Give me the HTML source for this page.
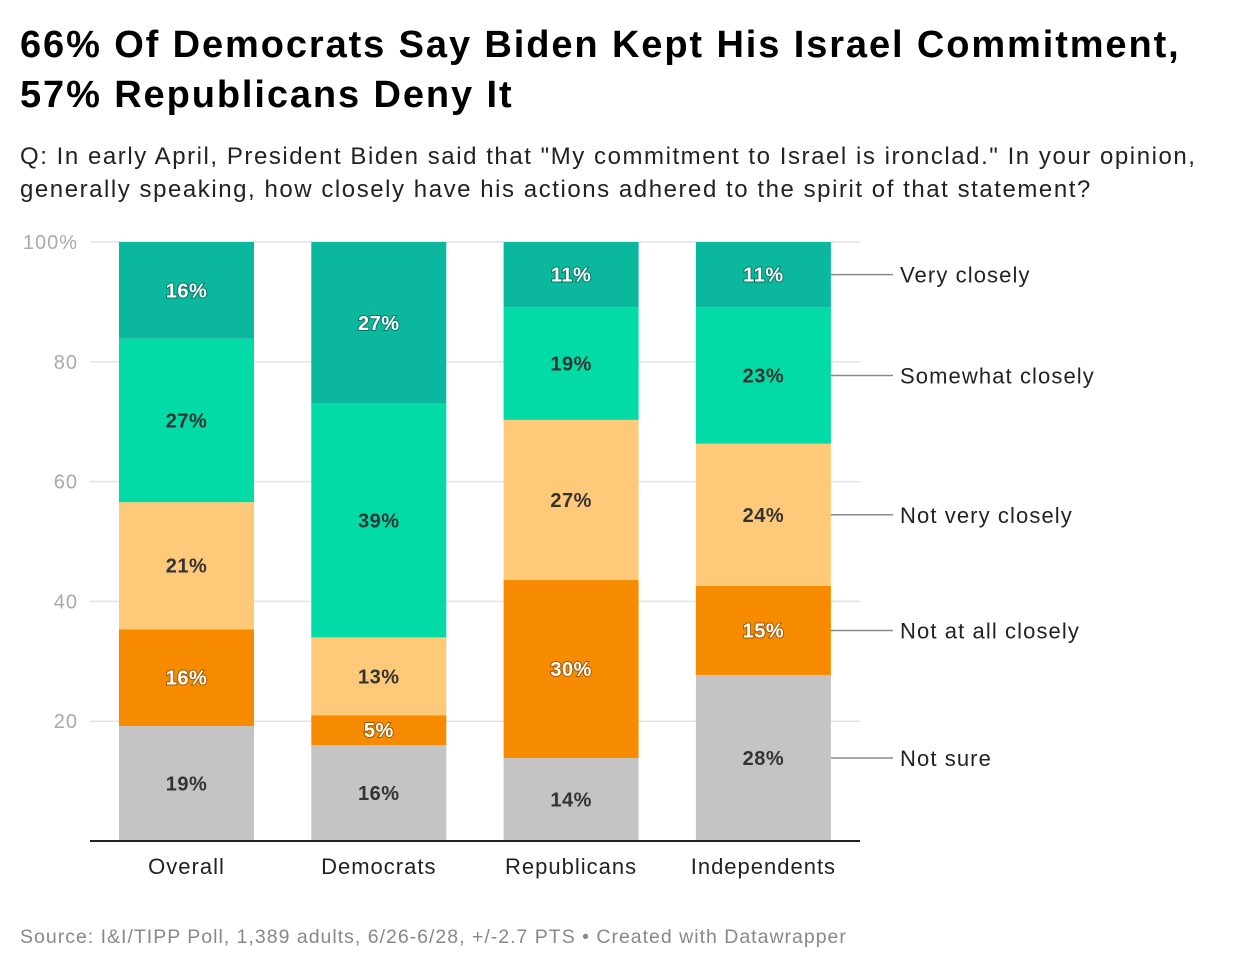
<!DOCTYPE html>
<html><head><meta charset="utf-8"><style>
body{margin:0;background:#fff;width:1240px;height:972px;overflow:hidden;font-family:"Liberation Sans",sans-serif;}
#title{position:absolute;left:20px;top:20px;font-size:38px;font-weight:bold;line-height:50px;color:#000;letter-spacing:1.9px}
#sub{position:absolute;left:20px;top:140px;font-size:24px;line-height:33px;color:#222;letter-spacing:1.55px;white-space:nowrap}
#src{position:absolute;left:20px;top:926px;font-size:19.5px;color:#888;letter-spacing:1px}
svg{position:absolute;left:0;top:0}
</style></head><body>
<div id="title">66% Of Democrats Say Biden Kept His Israel Commitment,<br>57% Republicans Deny It</div>
<div id="sub">Q: In early April, President Biden said that "My commitment to Israel is ironclad." In your opinion,<br>generally speaking, how closely have his actions adhered to the spirit of that statement?</div>
<div id="src">Source: I&amp;I/TIPP Poll, 1,389 adults, 6/26-6/28, +/-2.7 PTS • Created with Datawrapper</div>
<svg id="chart" width="1240" height="972"></svg>
<script>
const categories=["Overall","Democrats","Republicans","Independents"];
const seriesNames=["Not sure","Not at all closely","Not very closely","Somewhat closely","Very closely"];
const notSure=[19,16,14,28];
const notAtAll=[16,5,30,15];
const notVery=[21,13,27,24];
const somewhat=[27,39,19,23];
const veryClosely=[16,27,11,11];
const yTicks=[20,40,60,80,100];
const yTickLabels=["20","40","60","80","100%"];
const series=[notSure,notAtAll,notVery,somewhat,veryClosely];
const colors=["#c4c4c4","#f78b00","#fec978","#02dba6","#0bb79d"];
const darkText=[true,false,true,true,false];
const svg=document.getElementById('chart');
const NS="http://www.w3.org/2000/svg";
const y0=841,y100=242,x0=90,x1=860;
const y=v=>y0-(y0-y100)*v/100;
const bx=i=>119+i*192.3, bw=135;
function mk(t,a){const e=document.createElementNS(NS,t);for(const k in a)e.setAttribute(k,a[k]);svg.appendChild(e);return e;}
yTicks.forEach((t,i)=>{
 const g=mk('line',{x1:x0,x2:x1,y1:y(t),y2:y(t),stroke:'#e3e3e3','stroke-width':1.5});
 
 
 const l=mk('text',{x:78,y:y(t)+7,'text-anchor':'end','font-size':20,fill:'#aaa','font-family':'Liberation Sans','letter-spacing':1});
 l.textContent=yTickLabels[i];
 
 
});
categories.forEach((c,i)=>{
 const tot=series.reduce((s,a)=>s+a[i],0);
 let cum=0;
 series.forEach((a,s)=>{
  const v=a[i]*100/tot;
  const top=y(cum+v),bot=y(cum);
  const r=mk('rect',{x:bx(i),y:top,width:bw,height:bot-top,fill:colors[s]});
  
  
  const t=mk('text',{x:bx(i)+bw/2,y:(top+bot)/2+7,'text-anchor':'middle','font-size':20,'font-weight':'bold',fill:darkText[s]?'#333':'#fff','font-family':'Liberation Sans','letter-spacing':0.5});
  if(!darkText[s]) t.setAttribute('style','paint-order:stroke;stroke:rgba(0,0,0,0.35);stroke-width:2px');
  t.textContent=a[i]+'%';
  
  
  if(i===categories.length-1){
   const m=(top+bot)/2;
   const ln=mk('line',{x1:bx(i)+bw,x2:893,y1:m,y2:m,stroke:'#888','stroke-width':1.5});
   
   
   const lt=mk('text',{x:900,y:m+8,'font-size':22,fill:'#222','font-family':'Liberation Sans','letter-spacing':1.1});
   lt.textContent=seriesNames[s];
   
   
  }
  cum+=v;
 });
 const xl=mk('text',{x:bx(i)+bw/2,y:874,'text-anchor':'middle','font-size':22,fill:'#222','font-family':'Liberation Sans','letter-spacing':1});
 xl.textContent=c;
 
 
});
const ax=mk('line',{x1:x0,x2:x1,y1:y0,y2:y0,stroke:'#222','stroke-width':2});


</script>
</body></html>
